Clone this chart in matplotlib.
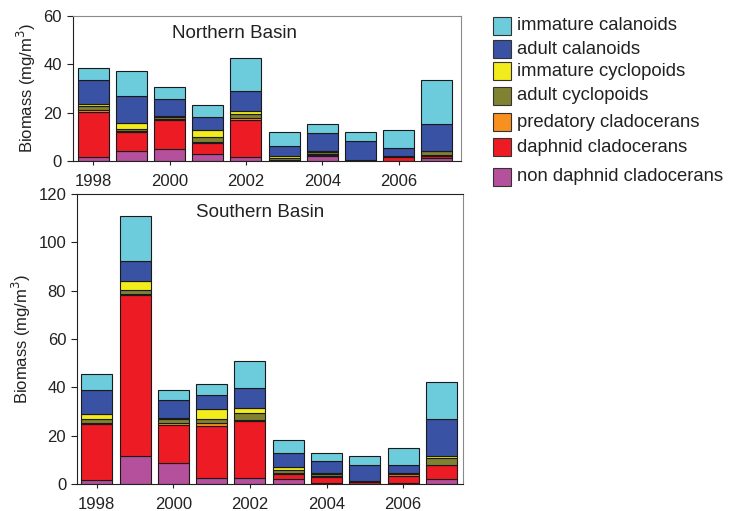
import numpy as np
import matplotlib
matplotlib.use("Agg")
from matplotlib import pyplot as plt
from matplotlib.patches import Rectangle

plt.rcParams['font.family'] = ['Liberation Sans', 'DejaVu Sans']

years = [1998, 1999, 2000, 2001, 2002, 2003, 2004, 2005, 2006, 2007]

# stacking order, bottom to top
groups = ['non daphnid cladocerans', 'daphnid cladocerans', 'predatory cladocerans',
          'adult cyclopoids', 'immature cyclopoids', 'adult calanoids', 'immature calanoids']
colors = ['#B5509C', '#ED1C24', '#F7901E', '#808232', '#F2EC1C', '#3A52A4', '#6CCCDC']

# Northern Basin biomass (mg/m3), one list per group
north_non_daphnid = [1.5, 4.0, 4.9, 2.7, 1.5, 0.1, 2.2, 0.1, 0.2, 1.1]
north_daphnid = [18.7, 7.8, 12.0, 4.8, 15.5, 0.2, 0.4, 0.2, 1.4, 1.0]
north_predatory = [1.0, 0.5, 0.4, 0.5, 0.9, 0.1, 0.3, 0.2, 0.2, 0.2]
north_adult_cyclo = [1.5, 1.1, 1.0, 2.0, 1.7, 0.9, 0.8, 0.1, 0.2, 1.7]
north_imm_cyclo = [0.9, 2.5, 0.4, 2.8, 1.2, 0.8, 0.3, 0.0, 0.1, 0.2]
north_adult_cala = [9.8, 11.0, 6.9, 5.3, 8.0, 4.1, 7.5, 7.7, 3.1, 11.1]
north_imm_cala = [5.0, 10.1, 5.1, 5.2, 13.7, 5.9, 3.7, 3.5, 7.5, 18.0]

# Southern Basin biomass (mg/m3)
south_non_daphnid = [1.8, 11.4, 8.7, 2.6, 2.6, 2.2, 0.6, 0.2, 0.4, 2.2]
south_daphnid = [23.0, 66.8, 15.7, 21.5, 23.3, 1.8, 2.2, 0.6, 3.0, 5.5]
south_predatory = [0.4, 0.4, 1.0, 1.1, 0.7, 0.4, 0.6, 0.2, 0.6, 0.2]
south_adult_cyclo = [1.6, 1.5, 1.4, 1.7, 2.8, 1.4, 0.9, 0.1, 0.2, 2.7]
south_imm_cyclo = [2.2, 4.0, 0.6, 4.0, 2.2, 1.4, 0.4, 0.0, 0.2, 0.8]
south_adult_cala = [10.0, 8.2, 7.5, 5.9, 8.3, 5.6, 4.8, 6.8, 3.5, 15.5]
south_imm_cala = [6.5, 18.6, 4.0, 4.6, 10.9, 5.4, 3.3, 3.7, 7.0, 15.4]

north = [north_non_daphnid, north_daphnid, north_predatory, north_adult_cyclo,
         north_imm_cyclo, north_adult_cala, north_imm_cala]
south = [south_non_daphnid, south_daphnid, south_predatory, south_adult_cyclo,
         south_imm_cyclo, south_adult_cala, south_imm_cala]


def stacked(ax, layers, title, title_xy, ymax, ystep):
    bottom = np.zeros(len(years))
    for vals, c in zip(layers, colors):
        ax.bar(years, vals, width=0.81, bottom=bottom, color=c,
               edgecolor='#1a1a1a', linewidth=0.8, zorder=2)
        bottom += np.array(vals)
    ax.set_ylim(0, ymax)
    ax.set_yticks(np.arange(0, ymax + 1, ystep))
    ax.set_xticks(years[::2])
    ax.tick_params(axis='both', labelsize=12, direction='out', colors='#222222')
    ax.tick_params(axis='y', length=4, pad=4)
    ax.tick_params(axis='x', length=3, pad=6)
    ax.set_ylabel('Biomass (mg/m$^3$)', fontsize=12, color='#222222')
    ax.text(title_xy[0], title_xy[1], title, fontsize=13.5, ha='center', va='center',
            color='#222222')
    for s in ['left', 'bottom']:
        ax.spines[s].set_color('#222222')
    ax.spines['right'].set_color('#8a8a8a')


fig = plt.figure(figsize=(7.29, 5.11), dpi=100)

ax1 = fig.add_axes([0.1001, 0.6849, 0.5322, 0.2844])
stacked(ax1, north, 'Northern Basin', (2001.7, 52.7), 60, 20)
ax1.set_xlim(1997.47, 2007.63)
ax1.spines['top'].set_color('#8a8a8a')

ax2 = fig.add_axes([0.1060, 0.0528, 0.5295, 0.5675])
stacked(ax2, south, 'Southern Basin', (2002.26, 112.2), 120, 20)
ax2.set_xlim(1997.49, 2007.57)
ax2.spines['top'].set_color('#222222')

# legend drawn by hand, top entry first
legend_rows = [25.7, 49.3, 71.0, 95.7, 122.3, 147.3, 176.7]
W, H = 729.0, 511.0
for name, c, yp in zip(groups[::-1], colors[::-1], legend_rows):
    fig.add_artist(Rectangle((492.5 / W, 1 - (yp + 9) / H), 19 / W, 18 / H,
                             transform=fig.transFigure, facecolor=c,
                             edgecolor='#333333', linewidth=0.8))
    fig.text(517 / W, 1 - yp / H, name, fontsize=13.3, va='center', ha='left',
             color='#222222')

fig.savefig('out.png', dpi=100)
